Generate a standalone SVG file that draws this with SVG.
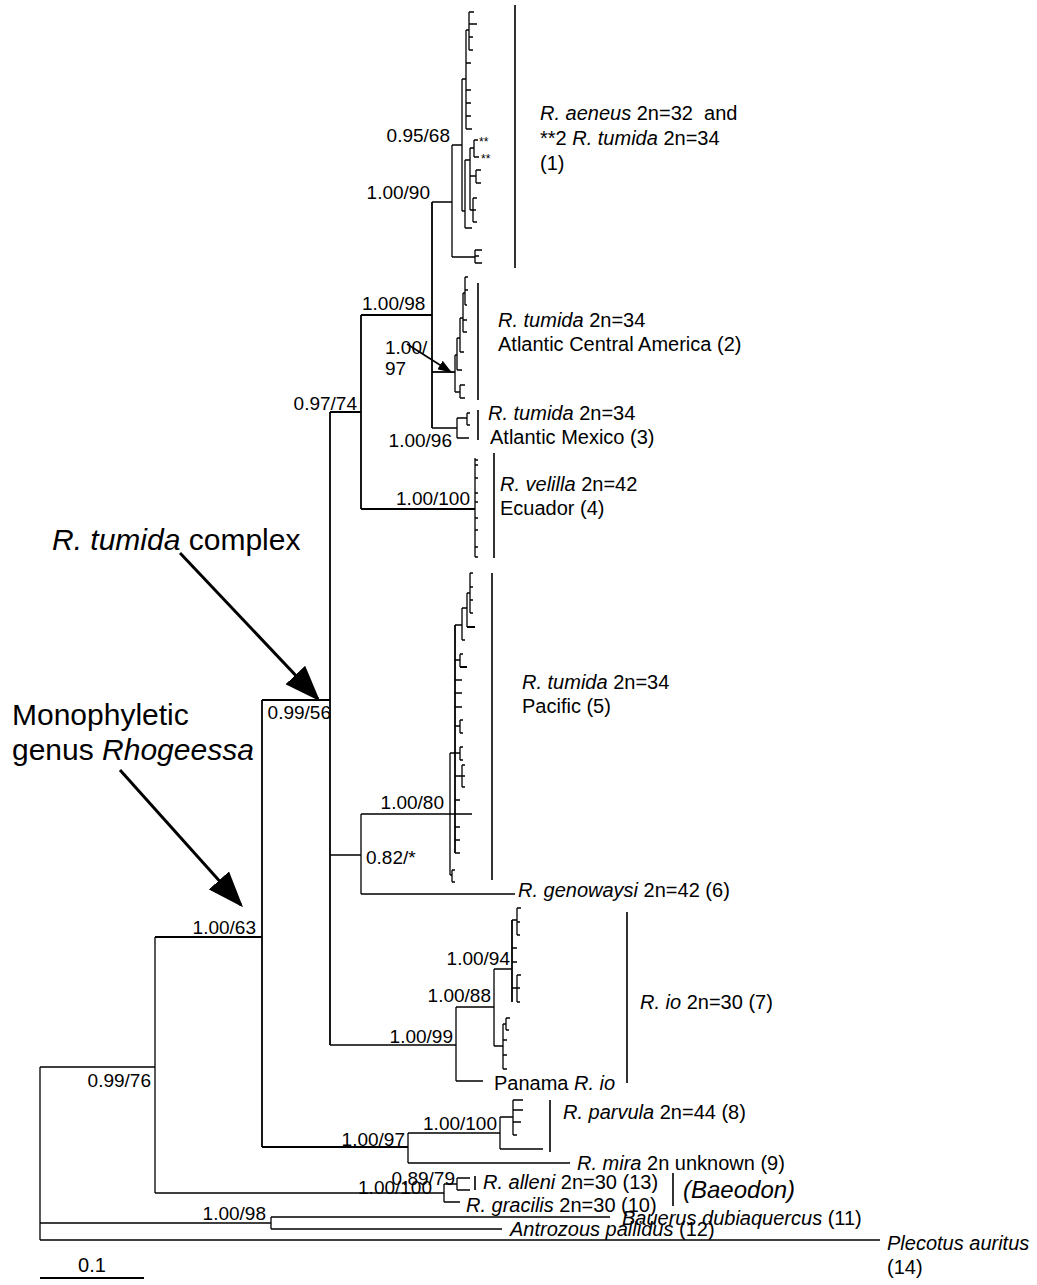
<svg xmlns="http://www.w3.org/2000/svg" width="1037" height="1285" viewBox="0 0 1037 1285">
<defs>
<marker id="bigArrow" markerWidth="12" markerHeight="9" refX="11" refY="4.5" orient="auto" markerUnits="strokeWidth"><path d="M0,0 L12,4.5 L0,9 z" fill="#000"/></marker>
<marker id="smallArrow" markerWidth="14" markerHeight="10" refX="13" refY="5" orient="auto" markerUnits="userSpaceOnUse"><path d="M0,0 L14,5 L0,10 z" fill="#000"/></marker>
<style>
.br{fill:none;stroke:#000;stroke-width:1.3}
.bk{fill:none;stroke:#000;stroke-width:1.8}
.bar{fill:none;stroke:#000;stroke-width:1.6}
text{font-family:"Liberation Sans",Arial,sans-serif;fill:#000}
.sp{font-size:20px}
.sv{font-size:19px}
.big{font-size:30px}
.i{font-style:italic}
.ast{font-size:12px}
</style>
</defs>
<rect width="1037" height="1285" fill="#fff"/>

<g id="connectors">
<!-- backbone -->
<path class="br" d="M40,1067 V1240 M40,1067 H155 M155,937 V1193 M40,1223 H271 M40,1240 H880"/>
<path class="bk" d="M155,937 H262 M262,700 V1147 M262,700 H330 M330,412 V1045 M262,1147 H408"/>
<path class="br" d="M155,1193 H444"/>
<path class="bk" d="M330,412 H361 M361,315 V509 M361,315 H432 M432,202 V428 M361,509 H475"/>
<!-- clade 1 -->
<path class="br" d="M432,202 H452 M452,145 V257 M452,257 H475 M475,250 V263 M475,250 H482 M475,256 H479 M475,263 H482"/>
<path class="br" d="M452,145 H462 M462,79 V211 M462,79 H466 M466,30 V129 M466,30 H469 M469,12 V50 M469,12 H474 M469,24 H477 M469,37 H473 M469,50 H473 M466,63 H471 M466,90 H471 M466,103 H471 M466,116 H471 M466,129 H472"/>
<path class="br" d="M462,211 H465 M465,160 V228 M465,228 H472 M465,160 H470 M470,148 V210 M470,148 H474 M474,140 V157 M474,140 H478 M474,157 H479 M470,176 H476 M476,170 V183 M476,170 H481 M476,183 H481 M470,210 H473 M473,198 V222 M473,198 H477 M473,210 H476 M473,222 H477"/>
<!-- clade 2 -->
<path class="bk" d="M432,372 H455"/>
<path class="br" d="M455,355 V392 M455,392 H460 M460,385 V398 M460,385 H465 M460,398 H465 M455,355 H457 M457,338 V370 M457,370 H462 M457,338 H460 M460,318 V352 M460,352 H464 M460,318 H463 M463,293 V332 M463,332 H467 M463,320 H467 M463,293 H465 M465,277 V305 M465,277 H468 M465,290 H468 M465,305 H467"/>
<!-- clade 3 -->
<path class="br" d="M432,428 H457 M457,418 V438 M457,438 H469 M457,418 H467 M467,413 V425 M467,413 H470 M467,425 H470"/>
<!-- clade 4 -->
<path class="br" d="M475,458 V557 M475,460 H478 M475,465 H478 M475,478 H478 M475,493 H478 M475,502 H478 M475,518 H478 M475,530 H478 M475,547 H478 M475,557 H478"/>
<!-- clade 5 and genowaysi -->
<path class="br" d="M330,855 H361 M361,814 V894 M361,894 H515 M361,814 H472 M450,753 V875 M450,875 H452 M452,870 V882 M452,870 H455 M452,882 H455 M450,753 H455"/>
<path class="bk" d="M455,625 V853"/>
<path class="br" d="M455,625 H462 M462,608 V640 M462,640 H465 M462,608 H467 M467,593 V627 M470,573 V613 M467,593 H470 M470,573 H473 M470,587 H473 M470,600 H473 M470,613 H473 M455,660 H460 M460,654 V667 M460,654 H463 M455,680 H462 M455,693 H462 M455,707 H462 M455,726 H460 M460,720 V733 M460,720 H463 M460,733 H463 M455,753 H460 M460,747 V760 M460,747 H463 M460,760 H463 M455,776 H462 M462,765 V787 M462,765 H465 M462,776 H465 M462,787 H465 M455,800 H460 M455,827 H460 M455,840 H460 M455,853 H460"/>
<path class="bk" d="M467,627 H475 M460,667 H467"/>
<!-- clade 7 -->
<path class="br" d="M330,1045 H456 M456,1007 V1081 M456,1081 H483 M456,1007 H494 M494,969 V1046 M494,969 H512 M494,1046 H503 M503,1024 V1069 M503,1024 H506 M506,1018 V1030 M506,1018 H510 M506,1030 H509 M503,1040 H507 M503,1055 H507 M503,1069 H507"/>
<path class="bk" d="M512,920 V1002"/>
<path class="br" d="M512,920 H517 M517,908 V935 M517,908 H521 M517,922 H520 M517,935 H520 M512,948 H517 M512,962 H517 M512,988 H517 M517,975 V1002 M517,975 H521 M517,988 H520 M517,1002 H520"/>
<!-- parvula / mira -->
<path class="br" d="M408,1133 V1163 M408,1133 H500 M500,1117 V1149 M500,1149 H543 M500,1117 H513 M513,1100 V1135 M513,1100 H523 M513,1110 H523 M513,1122 H521 M513,1135 H517 M408,1163 H570"/>
<!-- Baeodon -->
<path class="br" d="M444,1184 V1202 M444,1184 H457 M457,1178 V1190 M457,1178 H470 M457,1190 H470 M444,1202 H460"/>
<!-- outgroups -->
<path class="br" d="M271,1217 V1229 M271,1217 H610 M271,1229 H502"/>
<!-- clade bars -->
<path class="bar" d="M515,5 V268 M478,283 V400 M478,410 V440 M494,453 V558 M492,573 V880 M627,912 V1083 M550,1100 V1152 M475,1176 V1190 M673,1173 V1206"/>
<!-- scale -->
<path class="bk" d="M40,1278 H144"/>
<!-- pointer arrows -->
<line x1="180" y1="553" x2="318" y2="699" stroke="#000" stroke-width="3" marker-end="url(#bigArrow)"/>
<line x1="120" y1="770" x2="241" y2="905" stroke="#000" stroke-width="3" marker-end="url(#bigArrow)"/>
<line x1="407" y1="344" x2="451" y2="372" stroke="#000" stroke-width="1.6" marker-end="url(#smallArrow)"/>
</g>

<g id="support">
<text class="sv" x="450" y="142" text-anchor="end">0.95/68</text>
<text class="sv" x="430" y="199" text-anchor="end">1.00/90</text>
<text class="sv" x="362" y="310">1.00/98</text>
<text class="sv" x="385" y="354">1.00/</text>
<text class="sv" x="385" y="375">97</text>
<text class="sv" x="357" y="410" text-anchor="end">0.97/74</text>
<text class="sv" x="452" y="447" text-anchor="end">1.00/96</text>
<text class="sv" x="470" y="505" text-anchor="end">1.00/100</text>
<text class="sv" x="331" y="719" text-anchor="end">0.99/56</text>
<text class="sv" x="444" y="809" text-anchor="end">1.00/80</text>
<text class="sv" x="366" y="864">0.82/*</text>
<text class="sv" x="256" y="934" text-anchor="end">1.00/63</text>
<text class="sv" x="510" y="965" text-anchor="end">1.00/94</text>
<text class="sv" x="491" y="1002" text-anchor="end">1.00/88</text>
<text class="sv" x="453" y="1043" text-anchor="end">1.00/99</text>
<text class="sv" x="151" y="1087" text-anchor="end">0.99/76</text>
<text class="sv" x="497" y="1130" text-anchor="end">1.00/100</text>
<text class="sv" x="405" y="1146" text-anchor="end">1.00/97</text>
<text class="sv" x="455" y="1185" text-anchor="end">0.89/79</text>
<text class="sv" x="432" y="1194" text-anchor="end">1.00/100</text>
<text class="sv" x="266" y="1220" text-anchor="end">1.00/98</text>
<text class="ast" x="479" y="146">**</text>
<text class="ast" x="481" y="163">**</text>
</g>

<g id="clade1"><text class="sp" x="540" y="120" style="white-space:pre"><tspan class="i">R. aeneus</tspan> 2n=32  and</text><text class="sp" x="540" y="145">**2 <tspan class="i">R. tumida</tspan> 2n=34</text><text class="sp" x="540" y="170">(1)</text></g>
<g id="clade2"><text class="sp" x="498" y="327"><tspan class="i">R. tumida</tspan> 2n=34</text><text class="sp" x="498" y="351">Atlantic Central America (2)</text></g>
<g id="clade3"><text class="sp" x="488" y="420"><tspan class="i">R. tumida</tspan> 2n=34</text><text class="sp" x="490" y="444">Atlantic Mexico (3)</text></g>
<g id="clade4"><text class="sp" x="500" y="491"><tspan class="i">R. velilla</tspan> 2n=42</text><text class="sp" x="500" y="515">Ecuador (4)</text></g>
<g id="clade5"><text class="sp" x="522" y="689"><tspan class="i">R. tumida</tspan> 2n=34</text><text class="sp" x="522" y="713">Pacific (5)</text></g>
<g id="taxon6"><text class="sp" x="518" y="897"><tspan class="i">R. genowaysi</tspan> 2n=42 (6)</text></g>
<g id="clade7"><text class="sp" x="640" y="1009"><tspan class="i">R. io</tspan> 2n=30 (7)</text><text class="sp" x="494" y="1090">Panama <tspan class="i">R. io</tspan></text></g>
<g id="clade8"><text class="sp" x="563" y="1119"><tspan class="i">R. parvula</tspan> 2n=44 (8)</text></g>
<g id="taxon9"><text class="sp" x="577" y="1170"><tspan class="i">R. mira</tspan> 2n unknown (9)</text></g>
<g id="taxon13"><text class="sp" x="483" y="1189"><tspan class="i">R. alleni</tspan> 2n=30 (13)</text></g>
<g id="taxon10"><text class="sp" x="466" y="1212"><tspan class="i">R. gracilis</tspan> 2n=30 (10)</text></g>
<g id="baeodon"><text x="683" y="1198" font-size="24" class="i">(Baeodon)</text></g>
<g id="taxon11"><text class="sp" x="622" y="1225"><tspan class="i">Bauerus dubiaquercus</tspan> (11)</text></g>
<g id="taxon12"><text class="sp" x="510" y="1236"><tspan class="i">Antrozous pallidus</tspan> (12)</text></g>
<g id="taxon14"><text class="sp i" x="887" y="1250">Plecotus auritus</text><text class="sp" x="887" y="1274">(14)</text></g>
<g id="scale"><text class="sp" x="92" y="1272" text-anchor="middle">0.1</text></g>
<g id="callout-complex"><text class="big" x="52" y="550"><tspan class="i">R. tumida</tspan> complex</text></g>
<g id="callout-genus"><text class="big" x="12" y="725">Monophyletic</text><text class="big" x="12" y="760">genus <tspan class="i">Rhogeessa</tspan></text></g>
</svg>
